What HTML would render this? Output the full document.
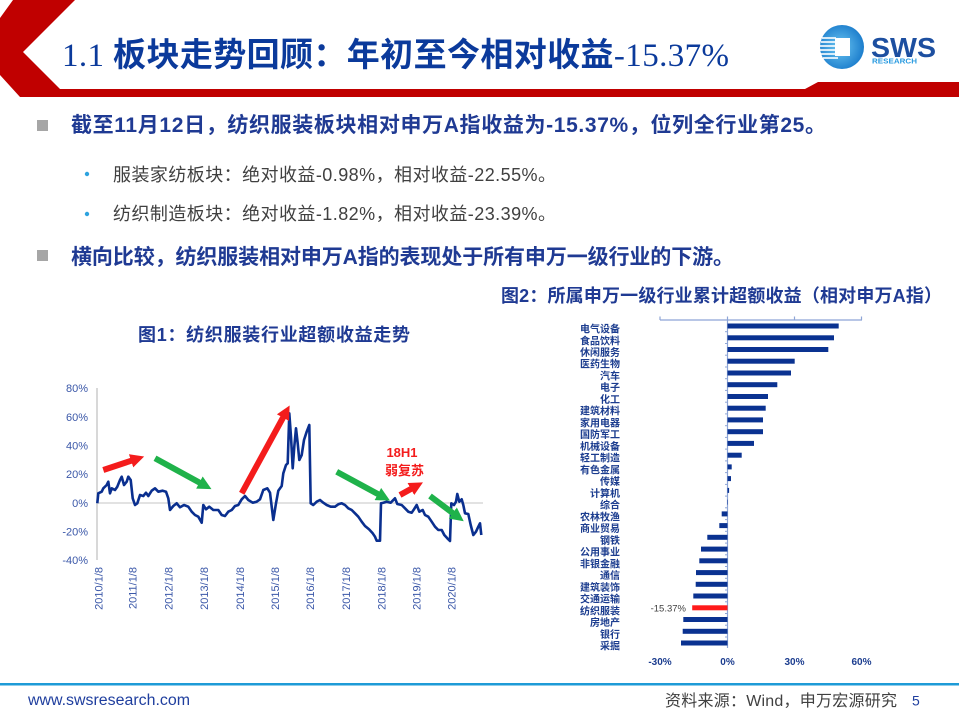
<!DOCTYPE html>
<html><head><meta charset="utf-8"><style>
html,body{margin:0;padding:0;background:#fff;}
svg{display:block;}
</style></head><body>
<svg width="959" height="719" viewBox="0 0 959 719" xmlns="http://www.w3.org/2000/svg">
<defs>
<marker id="hr" viewBox="0 0 10 10" refX="3" refY="5" markerWidth="2.3" markerHeight="2.3" orient="auto"><path d="M0,0 L10,5 L0,10 z" fill="#f41c1c"/></marker>
<marker id="hg" viewBox="0 0 10 10" refX="3" refY="5" markerWidth="2.3" markerHeight="2.3" orient="auto"><path d="M0,0 L10,5 L0,10 z" fill="#1fb24a"/></marker>
<radialGradient id="lg" cx="0.45" cy="0.5" r="0.6"><stop offset="0" stop-color="#6cc6f2"/><stop offset="1" stop-color="#1577c9"/></radialGradient>
</defs>

<!-- header red shape -->
<polygon points="13,0 75,0 23,52 60,89 805,89 818,82 959,82 959,97 20,97 0,75 0,18" fill="#c00000"/>

<!-- title -->
<text x="62" y="66" textLength="667" lengthAdjust="spacing" fill="#0b3a9b" font-size="33" font-family="'Liberation Serif','Noto Sans CJK SC',serif"><tspan>1.1 </tspan><tspan font-weight="bold" font-family="'Noto Sans CJK SC',sans-serif">板块走势回顾：年初至今相对收益</tspan><tspan>-15.37%</tspan></text>

<!-- logo -->
<circle cx="842" cy="47" r="22" fill="url(#lg)"/>
<g stroke="#fff" stroke-width="1.6">
<line x1="822" y1="38" x2="836" y2="38"/>
<line x1="821" y1="42" x2="836" y2="42"/>
<line x1="820" y1="46" x2="836" y2="46"/>
<line x1="820" y1="50" x2="836" y2="50"/>
<line x1="821" y1="54" x2="836" y2="54"/>
<line x1="823" y1="58" x2="838" y2="58"/>
</g>
<rect x="835" y="38" width="15" height="18" fill="#fff"/>
<text x="871" y="57" font-size="28" font-weight="bold" fill="#1d4fa0" font-family="'Liberation Sans',sans-serif" textLength="65" lengthAdjust="spacingAndGlyphs">SWS</text>
<text x="872" y="63.5" font-size="7.5" font-weight="bold" fill="#2a9be0" font-family="'Liberation Sans',sans-serif" textLength="45" lengthAdjust="spacingAndGlyphs">RESEARCH</text>

<!-- bullets -->
<rect x="37" y="120" width="11" height="11" fill="#a6a6a6"/>
<text x="71" y="132" textLength="755" lengthAdjust="spacing" font-size="21" font-weight="bold" fill="#1f3a93" font-family="'Liberation Sans','Noto Sans CJK SC',sans-serif">截至11月12日，纺织服装板块相对申万A指收益为-15.37%，位列全行业第25。</text>
<circle cx="87" cy="174" r="2.2" fill="#2ea3df"/>
<text x="113" y="181" textLength="443" lengthAdjust="spacing" font-size="18" fill="#404040" font-family="'Liberation Sans','Noto Sans CJK SC',sans-serif">服装家纺板块：绝对收益-0.98%，相对收益-22.55%。</text>
<circle cx="87" cy="214" r="2.2" fill="#2ea3df"/>
<text x="113" y="220" textLength="443" lengthAdjust="spacing" font-size="18" fill="#404040" font-family="'Liberation Sans','Noto Sans CJK SC',sans-serif">纺织制造板块：绝对收益-1.82%，相对收益-23.39%。</text>
<rect x="37" y="250" width="11" height="11" fill="#a6a6a6"/>
<text x="71" y="264" textLength="663" lengthAdjust="spacing" font-size="21" font-weight="bold" fill="#1f3a93" font-family="'Liberation Sans','Noto Sans CJK SC',sans-serif">横向比较，纺织服装相对申万A指的表现处于所有申万一级行业的下游。</text>

<!-- figure titles -->
<text x="501" y="302" textLength="441" lengthAdjust="spacing" font-size="18" font-weight="bold" fill="#1f3a93" font-family="'Liberation Sans','Noto Sans CJK SC',sans-serif">图2：所属申万一级行业累计超额收益（相对申万A指）</text>
<text x="138" y="341" textLength="272" lengthAdjust="spacing" font-size="18" font-weight="bold" fill="#1f3a93" font-family="'Liberation Sans','Noto Sans CJK SC',sans-serif">图1：纺织服装行业超额收益走势</text>

<!-- line chart -->
<line x1="97" y1="388" x2="97" y2="560" stroke="#bfbfbf" stroke-width="1.2"/>
<line x1="97" y1="503" x2="483" y2="503" stroke="#d9d9d9" stroke-width="1.5"/>
<g font-family="'Liberation Sans',sans-serif" font-size="11" fill="#3a57a8" text-anchor="end">
<text x="88" y="392">80%</text>
<text x="88" y="421">60%</text>
<text x="88" y="449.6">40%</text>
<text x="88" y="478.2">20%</text>
<text x="88" y="507">0%</text>
<text x="88" y="535.5">-20%</text>
<text x="88" y="564">-40%</text>
</g>
<g font-family="'Liberation Sans',sans-serif" font-size="11" fill="#3a57a8" text-anchor="end">
<text transform="translate(102.3,567) rotate(-90)">2010/1/8</text>
<text transform="translate(136.7,567) rotate(-90)">2011/1/8</text>
<text transform="translate(172.3,567) rotate(-90)">2012/1/8</text>
<text transform="translate(208,567) rotate(-90)">2013/1/8</text>
<text transform="translate(244,567) rotate(-90)">2014/1/8</text>
<text transform="translate(279,567) rotate(-90)">2015/1/8</text>
<text transform="translate(314,567) rotate(-90)">2016/1/8</text>
<text transform="translate(350,567) rotate(-90)">2017/1/8</text>
<text transform="translate(385.7,567) rotate(-90)">2018/1/8</text>
<text transform="translate(420.7,567) rotate(-90)">2019/1/8</text>
<text transform="translate(455.7,567) rotate(-90)">2020/1/8</text>
</g>
<polyline fill="none" stroke="#0a2f8f" stroke-width="2.6" stroke-linejoin="round" points="97.3,503.3 98.3,493.3 101.7,491.7 103.3,488.3 106.7,485 108.3,481.7 110,493.3 111.7,488.3 115,490 117.3,486.7 120,480 121.7,476.7 124,485 126.7,481.7 128.3,476.7 130.7,480 132.7,498.3 135,505 137.3,503.3 140,495 143.3,496 146,492.7 148.3,496 151.7,490.7 155,488.3 158.3,491.7 162.7,490.7 166,491.7 168.3,498.3 170,510 173.3,506 176.7,503.3 180,507.3 184,505 188.3,506.7 191.7,511.7 195,515 198.3,516.7 201.7,522.7 203.3,505 206,509.3 209.3,506.7 213.3,510 218.3,510 221.7,515 225,516 228.3,511.7 231.7,510 235,506 238.3,505 241.7,499.3 245,496 248.3,500 252.7,502.7 256.7,501.7 260,499.3 263.3,490 267.3,488.3 270,492.7 271.7,506.7 273.3,520 276,503.3 278.3,490.7 281.7,486 283.3,473.3 286,465 287.7,463.3 289.3,413.3 291,436.7 292.7,468.3 294.3,446.7 296,428.3 297.7,443.3 299.3,460 301.7,455 304,440 306.7,431.7 309.3,425 310.7,503.3 313.3,505 316.7,501.7 320,500 323.3,502.7 326.7,505 330.7,506.7 335,506.7 338.3,504.3 341.7,503.3 345,505 348.3,508.3 351.7,510 355,513.3 358.3,516.7 361.7,521.7 365,526 369,529.3 372.7,533.3 375,536.7 376.7,540.7 380,540.7 381,503.3 383.3,502.7 386.7,501.7 390.7,502.7 395,498.3 397.3,504 401.7,505 405,508.3 408.3,511.7 411.7,512.7 414,509.3 416.7,505 419.3,511.7 422.7,510 425,515 428.3,516.7 431.7,521.7 435,526.7 438.3,530 441.7,530 444.3,535 447.3,538.3 450,541 451.3,503.3 454,505 456,501.7 457.3,494 459.3,501.7 461.7,499.3 463.3,505 465,513.3 468.3,514 470.7,525 473.3,535 476,531.7 478.3,526.7 480,523.3 481.3,535"/>

<!-- arrows -->
<g stroke-width="6" fill="none">
<line x1="103.3" y1="470" x2="135" y2="459.5" stroke="#f41c1c" marker-end="url(#hr)"/>
<line x1="155" y1="458.3" x2="203" y2="484.5" stroke="#1fb24a" marker-end="url(#hg)"/>
<line x1="241.7" y1="493.3" x2="285" y2="414" stroke="#f41c1c" marker-end="url(#hr)"/>
<line x1="336.7" y1="471.7" x2="381.5" y2="496" stroke="#1fb24a" marker-end="url(#hg)"/>
<line x1="400" y1="495" x2="414.5" y2="487" stroke="#f41c1c" marker-end="url(#hr)"/>
<line x1="430" y1="496" x2="456" y2="515.5" stroke="#1fb24a" marker-end="url(#hg)"/>
</g>
<text x="402" y="457" text-anchor="middle" font-size="13" font-weight="bold" fill="#f41c1c" font-family="'Liberation Sans',sans-serif">18H1</text>
<text x="404.5" y="475" text-anchor="middle" font-size="13" font-weight="bold" fill="#f41c1c" font-family="'Liberation Sans','Noto Sans CJK SC',sans-serif">弱复苏</text>

<!-- bar chart axes -->
<g stroke="#8ea5d6" stroke-width="1.2">
<line x1="660" y1="320" x2="862" y2="320"/>
<line x1="660" y1="316.5" x2="660" y2="320"/>
<line x1="727.5" y1="316.5" x2="727.5" y2="320"/>
<line x1="794.5" y1="316.5" x2="794.5" y2="320"/>
<line x1="861.5" y1="316.5" x2="861.5" y2="320"/>
<line x1="727.5" y1="320" x2="727.5" y2="648"/>
</g>
<g stroke="#8ea5d6" stroke-width="1">
<line x1="725" y1="331.7" x2="727.5" y2="331.7"/><line x1="725" y1="343.5" x2="727.5" y2="343.5"/><line x1="725" y1="355.2" x2="727.5" y2="355.2"/><line x1="725" y1="367" x2="727.5" y2="367"/><line x1="725" y1="378.7" x2="727.5" y2="378.7"/><line x1="725" y1="390.4" x2="727.5" y2="390.4"/><line x1="725" y1="402.2" x2="727.5" y2="402.2"/><line x1="725" y1="413.9" x2="727.5" y2="413.9"/><line x1="725" y1="425.7" x2="727.5" y2="425.7"/><line x1="725" y1="437.4" x2="727.5" y2="437.4"/><line x1="725" y1="449.1" x2="727.5" y2="449.1"/><line x1="725" y1="460.9" x2="727.5" y2="460.9"/><line x1="725" y1="472.6" x2="727.5" y2="472.6"/><line x1="725" y1="484.4" x2="727.5" y2="484.4"/><line x1="725" y1="496.1" x2="727.5" y2="496.1"/><line x1="725" y1="507.8" x2="727.5" y2="507.8"/><line x1="725" y1="519.6" x2="727.5" y2="519.6"/><line x1="725" y1="531.3" x2="727.5" y2="531.3"/><line x1="725" y1="543.1" x2="727.5" y2="543.1"/><line x1="725" y1="554.8" x2="727.5" y2="554.8"/><line x1="725" y1="566.5" x2="727.5" y2="566.5"/><line x1="725" y1="578.3" x2="727.5" y2="578.3"/><line x1="725" y1="590" x2="727.5" y2="590"/><line x1="725" y1="601.8" x2="727.5" y2="601.8"/><line x1="725" y1="613.5" x2="727.5" y2="613.5"/><line x1="725" y1="625.2" x2="727.5" y2="625.2"/><line x1="725" y1="637" x2="727.5" y2="637"/>
</g>

<!-- bars -->
<g fill="#0a3291">
<rect x="727.5" y="323.5" width="111.2" height="5"/>
<rect x="727.5" y="335.3" width="106.5" height="5"/>
<rect x="727.5" y="347" width="100.8" height="5"/>
<rect x="727.5" y="358.7" width="67.2" height="5"/>
<rect x="727.5" y="370.5" width="63.5" height="5"/>
<rect x="727.5" y="382.2" width="49.8" height="5"/>
<rect x="727.5" y="394" width="40.5" height="5"/>
<rect x="727.5" y="405.7" width="38.2" height="5"/>
<rect x="727.5" y="417.4" width="35.5" height="5"/>
<rect x="727.5" y="429.2" width="35.5" height="5"/>
<rect x="727.5" y="440.9" width="26.5" height="5"/>
<rect x="727.5" y="452.7" width="14.2" height="5"/>
<rect x="727.5" y="464.4" width="4.2" height="5"/>
<rect x="727.5" y="476.1" width="3.5" height="5"/>
<rect x="727.5" y="487.9" width="1.6" height="5"/>
<rect x="727.5" y="499.6" width="0.5" height="5"/>
<rect x="721.7" y="511.4" width="5.8" height="5"/>
<rect x="719.3" y="523.1" width="8.2" height="5"/>
<rect x="707.3" y="534.8" width="20.2" height="5"/>
<rect x="701" y="546.6" width="26.5" height="5"/>
<rect x="699.3" y="558.3" width="28.2" height="5"/>
<rect x="696" y="570.1" width="31.5" height="5"/>
<rect x="695.7" y="581.8" width="31.8" height="5"/>
<rect x="693.3" y="593.5" width="34.2" height="5"/>
<rect x="683.3" y="617" width="44.2" height="5"/>
<rect x="682.7" y="628.8" width="44.8" height="5"/>
<rect x="681" y="640.5" width="46.5" height="5"/>
</g>
<rect x="692.2" y="605.3" width="35.3" height="5" fill="#ff1a1a"/>
<text x="686" y="611.5" text-anchor="end" font-size="9.5" fill="#404040" font-family="'Liberation Sans',sans-serif">-15.37%</text>

<g font-family="'Liberation Sans','Noto Sans CJK SC',sans-serif" font-size="10" font-weight="bold" fill="#1c3d8f" text-anchor="end">
<text x="620" y="332.5">电气设备</text>
<text x="620" y="344.3">食品饮料</text>
<text x="620" y="356">休闲服务</text>
<text x="620" y="367.7">医药生物</text>
<text x="620" y="379.5">汽车</text>
<text x="620" y="391.2">电子</text>
<text x="620" y="403">化工</text>
<text x="620" y="414.7">建筑材料</text>
<text x="620" y="426.4">家用电器</text>
<text x="620" y="438.2">国防军工</text>
<text x="620" y="449.9">机械设备</text>
<text x="620" y="461.7">轻工制造</text>
<text x="620" y="473.4">有色金属</text>
<text x="620" y="485.1">传媒</text>
<text x="620" y="496.9">计算机</text>
<text x="620" y="508.6">综合</text>
<text x="620" y="520.4">农林牧渔</text>
<text x="620" y="532.1">商业贸易</text>
<text x="620" y="543.8">钢铁</text>
<text x="620" y="555.6">公用事业</text>
<text x="620" y="567.3">非银金融</text>
<text x="620" y="579.1">通信</text>
<text x="620" y="590.8">建筑装饰</text>
<text x="620" y="602.5">交通运输</text>
<text x="620" y="614.3">纺织服装</text>
<text x="620" y="626">房地产</text>
<text x="620" y="637.8">银行</text>
<text x="620" y="649.5">采掘</text>
</g>
<g font-family="'Liberation Sans',sans-serif" font-size="10" font-weight="bold" fill="#1c3d8f" text-anchor="middle">
<text x="660" y="665">-30%</text>
<text x="727.5" y="665">0%</text>
<text x="794.5" y="665">30%</text>
<text x="861.5" y="665">60%</text>
</g>

<!-- footer -->
<rect x="0" y="683" width="959" height="2.5" fill="#1e9bd7"/>
<text x="28" y="705" font-size="15.5" fill="#1f3e9e" font-family="'Liberation Sans',sans-serif" textLength="162" lengthAdjust="spacingAndGlyphs">www.swsresearch.com</text>
<text x="665" y="706" font-size="16" fill="#404040" font-family="'Liberation Sans','Noto Sans CJK SC',sans-serif" textLength="232" lengthAdjust="spacing">资料来源：Wind，申万宏源研究</text>
<text x="912" y="705.5" font-size="14" fill="#1f3e9e" font-family="'Liberation Sans',sans-serif">5</text>
</svg>
</body></html>
